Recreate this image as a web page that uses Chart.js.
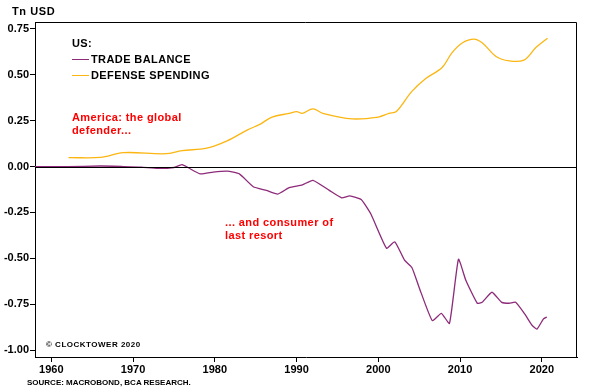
<!DOCTYPE html>
<html>
<head>
<meta charset="utf-8">
<script src="https://cdn.jsdelivr.net/npm/chart.js@4"></script>
<style>
  body { margin: 0; background: #fff; }
  #wrap { position: relative; width: 591px; height: 390px; font-family: "Liberation Sans", Arial, sans-serif; font-weight: bold; }
  canvas { position: absolute; left: 0; top: 0; }
  .txt { position: absolute; white-space: nowrap; color: #000; }
  .red { color: #ff0000; font-size: 11px; line-height: 13px; letter-spacing: 0.4px; }
  .leg { font-size: 11px; line-height: 16px; letter-spacing: 0.4px; }
  .sw { display: inline-block; width: 17px; height: 1px; vertical-align: middle; margin-right: 2px; position: relative; top: -1px; }
</style>
</head>
<body>
<div id="wrap">
  <canvas id="chart" width="591" height="390"></canvas>
  <div class="txt" style="left:12px; top:5px; font-size:11px; letter-spacing:0.6px;">Tn USD</div>
  <div class="txt leg" style="left:72px; top:35px;">US:<br>
    <span class="sw" style="background:#8d2a79"></span>TRADE BALANCE<br>
    <span class="sw" style="background:#fbb612"></span>DEFENSE SPENDING</div>
  <div class="txt red" style="left:72px; top:111px;">America: the global<br>defender...</div>
  <div class="txt red" style="left:225px; top:216px;">... and consumer of<br>last resort</div>
  <div class="txt" style="left:46px; top:340px; font-size:8px; letter-spacing:0.5px;">© CLOCKTOWER 2020</div>
  <div class="txt" style="left:27px; top:378px; font-size:8px;">SOURCE: MACROBOND, BCA RESEARCH.</div>
</div>
<script>
// Balança comercial dos EUA (Tn USD)
const tradeYears = [1958, 1962, 1966, 1968.8, 1971, 1973, 1975, 1976, 1978.2, 1979.8, 1981.5, 1983, 1984.7, 1986.3, 1987.7, 1989.1, 1990.7, 1992, 1994, 1995.5, 1996.5, 1997.9, 1999.1, 2001, 2002, 2003.2, 2004.1, 2005, 2006.6, 2007.7, 2008.7, 2009.8, 2010.7, 2012.1, 2012.7, 2013.9, 2015.1, 2016, 2016.8, 2018, 2018.8, 2019.4, 2020.2, 2020.6];
const tradeValues = [0.0, 0.0, 0.003, 0.0, -0.003, -0.01, -0.005, 0.01, -0.04, -0.03, -0.025, -0.04, -0.11, -0.13, -0.15, -0.115, -0.10, -0.075, -0.13, -0.17, -0.16, -0.18, -0.26, -0.445, -0.41, -0.51, -0.55, -0.66, -0.84, -0.80, -0.855, -0.505, -0.62, -0.745, -0.74, -0.685, -0.74, -0.745, -0.74, -0.81, -0.865, -0.886, -0.83, -0.82];

// Gastos com defesa dos EUA (Tn USD)
const defenseYears = [1962.1, 1966, 1968.8, 1974, 1976, 1979, 1981.5, 1984, 1985.5, 1987, 1989.1, 1990, 1990.7, 1992, 1993.2, 1996.8, 2000, 2001.3, 2002.2, 2004.1, 2005.8, 2007.8, 2009, 2010.3, 2011.7, 2012.7, 2014.4, 2016, 2017.8, 2019.3, 2020.7];
const defenseValues = [0.049, 0.05, 0.076, 0.07, 0.087, 0.10, 0.14, 0.20, 0.23, 0.27, 0.29, 0.30, 0.29, 0.315, 0.29, 0.26, 0.27, 0.29, 0.30, 0.41, 0.48, 0.54, 0.62, 0.675, 0.695, 0.675, 0.60, 0.576, 0.58, 0.65, 0.70];

const yTicks = [-1.0, -0.75, -0.5, -0.25, 0.0, 0.25, 0.5, 0.75];
const xTicks = [1960, 1970, 1980, 1990, 2000, 2010, 2020];

function toPoints(xs, ys) {
    return xs.map((x, i) => ({ x: x, y: ys[i] }));
}

// Desenha a moldura e a linha do zero
const framePlugin = {
    id: 'frame',
    afterDatasetsDraw(chart) {
        const { ctx, chartArea: a, scales } = chart;
        ctx.save();
        ctx.strokeStyle = '#000';
        ctx.lineWidth = 1;
        ctx.beginPath();
        ctx.moveTo(a.left, a.top + 0.5);
        ctx.lineTo(a.right - 0.5, a.top + 0.5);
        ctx.lineTo(a.right - 0.5, a.bottom);
        const y0 = Math.round(scales.y.getPixelForValue(0)) + 0.5;
        ctx.moveTo(a.left, y0);
        ctx.lineTo(a.right, y0);
        ctx.stroke();
        ctx.restore();
    }
};

const tickFont = { family: '"Liberation Sans", Arial, sans-serif', size: 11, weight: 'bold' };

new Chart(document.getElementById('chart').getContext('2d'), {
    type: 'line',
    data: {
        datasets: [
            {
                label: 'TRADE BALANCE',
                data: toPoints(tradeYears, tradeValues),
                borderColor: '#8d2a79',
                borderWidth: 1.3,
                pointRadius: 0,
                tension: 0.15
            },
            {
                label: 'DEFENSE SPENDING',
                data: toPoints(defenseYears, defenseValues),
                borderColor: '#fbb612',
                borderWidth: 1.3,
                pointRadius: 0,
                tension: 0.35
            }
        ]
    },
    options: {
        responsive: false,
        animation: false,
        layout: { padding: { top: 22, right: 14, left: 0, bottom: 0 } },
        plugins: { legend: { display: false }, tooltip: { enabled: false } },
        scales: {
            x: {
                type: 'linear',
                min: 1958,
                max: 2024.3,
                afterBuildTicks: s => { s.ticks = xTicks.map(v => ({ value: v })); },
                afterFit: s => { s.height = 33; },
                grid: { drawOnChartArea: false, drawTicks: true, tickLength: 5, color: '#000' },
                border: { display: true, color: '#000', width: 1 },
                ticks: { color: '#000', font: tickFont, padding: 1, maxRotation: 0, callback: v => String(v) }
            },
            y: {
                min: -1.038,
                max: 0.788,
                afterBuildTicks: s => { s.ticks = yTicks.map(v => ({ value: v })); },
                afterFit: s => { s.width = 35; },
                grid: { drawOnChartArea: false, drawTicks: true, tickLength: 5, color: '#000' },
                border: { display: true, color: '#000', width: 1 },
                ticks: { color: '#000', font: tickFont, padding: 1, callback: v => v.toFixed(2) }
            }
        }
    },
    plugins: [framePlugin]
});
</script>
</body>
</html>
